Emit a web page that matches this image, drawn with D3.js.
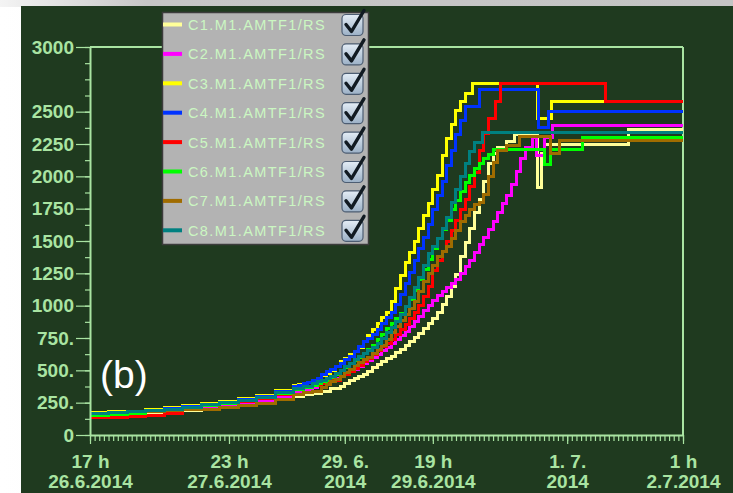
<!DOCTYPE html>
<html>
<head>
<meta charset="utf-8">
<script src="https://cdn.jsdelivr.net/npm/d3@7"></script>
<style>
  html, body { margin: 0; padding: 0; background: #ffffff; }
  svg { display: block; }
</style>
</head>
<body>
<svg id="chart" width="733" height="493"></svg>
<script>
// Hourly readings, hours counted from 17 h on 26.6.2014, values in the sensor's unit.
const c1Readings = [[0,165],[4,167],[8,170],[12,175],[16,180],[20,190],[24,200],[28,212],[32,230],[36,250],[40,275],[44,300],[46,310],[48,320],[50,340],[52,360],[54,375],[55,395],[56,420],[57,435],[58,450],[59,470],[60,490],[61,520],[62,545],[63,570],[64,590],[65,610],[66,635],[67,660],[68,690],[69,720],[70,755],[71,785],[72,820],[73,860],[74,900],[75,950],[76,1010],[77,1070],[78,1150],[79,1240],[80,1380],[81,1490],[82,1600],[83,1720],[84,1820],[85,1960],[86,2100],[87,2180],[88,2220],[90,2270],[91.7,2320],[96.7,1910],[97.5,2180],[98.2,2250],[116.2,2365],[128,2365]];
const c2Readings = [[0,140],[4,160],[8,180],[12,186],[16,192],[20,200],[24,210],[28,225],[32,240],[36,262],[40,292],[44,330],[46,350],[48,370],[49,382],[50,395],[51,410],[52,425],[53,440],[54,455],[55,472],[56,490],[57,510],[58,530],[59,552],[60,575],[61,600],[62,625],[63,650],[64,680],[65,710],[66,740],[67,770],[68,800],[69,840],[70,880],[71,920],[72,960],[73,1000],[74,1040],[75,1075],[76,1110],[77,1140],[78,1170],[79,1200],[80,1250],[81,1300],[82,1350],[83,1410],[84,1470],[85,1530],[86,1590],[87,1650],[88,1720],[89,1790],[90,1850],[91,1940],[92,2040],[93,2140],[94,2220],[95.6,2300],[96.3,2160],[98.2,2300],[99.9,2390],[128,2390]];
const c3Readings = [[0,175],[4,178],[8,185],[12,198],[16,212],[20,228],[24,245],[28,262],[32,282],[36,308],[40,345],[44,380],[45,388],[46,396],[47,408],[48,420],[49,440],[50,460],[51,478],[52,500],[53,530],[54,565],[55,595],[56,620],[57,645],[58,680],[59,720],[60,770],[61,815],[62,860],[63,905],[64,950],[65,1030],[66,1130],[67,1230],[68,1330],[69,1410],[70,1500],[71,1600],[72,1700],[73,1790],[74,1900],[75,2010],[76,2160],[77,2290],[78,2400],[79,2510],[80,2575],[81,2640],[82.5,2715],[96.7,2450],[99.7,2575],[128,2575]];
const c4Readings = [[0,165],[4,170],[8,178],[12,190],[16,205],[20,220],[24,238],[28,255],[32,275],[36,300],[40,335],[44,375],[45,385],[46,395],[47,405],[48,420],[49,440],[50,465],[51,490],[52,510],[53,530],[54,555],[55,580],[56,610],[57,645],[58,685],[59,720],[60,750],[61,780],[62,815],[63,860],[64,905],[65,950],[66,1010],[67,1090],[68,1170],[69,1260],[70,1350],[71,1440],[72,1530],[73,1630],[74,1740],[75,1850],[76,1960],[77,2080],[78,2200],[79,2320],[80,2430],[81,2540],[84,2670],[96.9,2375],[98.9,2500],[128,2500]];
const c5Readings = [[0,132],[4,135],[8,140],[12,148],[16,170],[20,205],[24,225],[28,245],[32,262],[36,285],[40,315],[44,350],[46,368],[48,385],[50,400],[52,420],[54,450],[55,470],[56,490],[57,515],[58,540],[59,568],[60,595],[61,625],[62,655],[63,685],[64,710],[65,740],[66,775],[67,815],[68,855],[69,900],[70,950],[71,1005],[72,1070],[73,1150],[74,1270],[75,1350],[76,1420],[77,1500],[78,1580],[79,1660],[80,1740],[81,1820],[82,1920],[83,2030],[84,2200],[85,2330],[86,2450],[87.5,2575],[88.5,2715],[111.2,2575],[128,2575]];
const c6Readings = [[0,148],[4,155],[8,168],[12,182],[16,198],[20,212],[24,228],[28,245],[32,265],[36,290],[40,320],[44,355],[46,368],[48,380],[49,395],[50,410],[51,425],[52,445],[53,470],[54,500],[55,525],[56,550],[57,575],[58,600],[59,630],[60,660],[61,695],[62,735],[63,780],[64,820],[65,860],[66,900],[67,940],[68,990],[69,1050],[70,1120],[71,1200],[72,1280],[73,1360],[74,1440],[75,1520],[76,1590],[77,1660],[78,1740],[79,1810],[80,1880],[81,1950],[82,2010],[83,2060],[84,2100],[85,2140],[86,2170],[87,2205],[98,2090],[99.5,2205],[106.4,2300],[128,2300]];
const c7Readings = [[0,170],[4,174],[8,178],[12,183],[16,188],[20,194],[24,200],[28,210],[32,225],[36,245],[40,275],[44,310],[46,325],[48,340],[50,370],[51,390],[52,410],[53,432],[54,455],[55,482],[56,510],[57,535],[58,560],[59,580],[60,600],[61,630],[62,660],[63,695],[64,740],[65,790],[66,840],[67,885],[68,930],[69,975],[70,1030],[71,1110],[72,1190],[73,1250],[74,1310],[75,1380],[76,1420],[77,1460],[78,1520],[79,1580],[80,1650],[81,1700],[82,1740],[83,1780],[84,1800],[85,1860],[86,2000],[87,2110],[88,2200],[90,2240],[92.8,2310],[99.3,2180],[101.4,2275],[128,2275]];
const c8Readings = [[0,170],[4,172],[8,178],[12,188],[16,200],[20,215],[24,232],[28,250],[32,268],[36,292],[40,325],[44,360],[46,378],[48,395],[49,410],[50,420],[51,435],[52,455],[53,475],[54,500],[55,530],[56,555],[57,580],[58,605],[59,630],[60,655],[61,680],[62,710],[63,745],[64,790],[65,830],[66,880],[67,935],[68,995],[69,1060],[70,1140],[71,1220],[72,1310],[73,1400],[74,1460],[75,1520],[76,1600],[77,1680],[78,1800],[79,1900],[80,2000],[81,2100],[82,2190],[83,2260],[84.8,2340],[128,2340]];

const seriesNames = ["C1.M1.AMTF1/RS","C2.M1.AMTF1/RS","C3.M1.AMTF1/RS","C4.M1.AMTF1/RS","C5.M1.AMTF1/RS","C6.M1.AMTF1/RS","C7.M1.AMTF1/RS","C8.M1.AMTF1/RS"];
const seriesColors = ["#ffff99","#ff00ff","#ffff00","#0033ff","#ff0000","#00ff00","#a06c00","#008080"];
const seriesReadings = [c1Readings,c2Readings,c3Readings,c4Readings,c5Readings,c6Readings,c7Readings,c8Readings];

// Axis ticks
const yTickValues = [0,250,500,750,1000,1250,1500,1750,2000,2250,2500,3000];
const yTickLabels = ["0","250.","500.","750.","1000","1250","1500","1750","2000","2250","2500","3000"];
const xTickHours = [0,30,55,74,103,128];
const xTickLine1 = ["17 h","23 h","29. 6.","19 h","1. 7.","1 h"];
const xTickLine2 = ["26.6.2014","27.6.2014","2014","29.6.2014","2014","2.7.2014"];

const W = 733, H = 493;
const axisColor = "#a9e4a2";
const panelColor = "#1f3a1f";
const svg = d3.select("#chart");

// Window frame and dark panel
const defs = svg.append("defs");
const topGrad = defs.append("linearGradient").attr("id","topGrad").attr("x1",0).attr("x2",1).attr("y1",0).attr("y2",0);
topGrad.append("stop").attr("offset","0%").attr("stop-color","#f4f4f4");
topGrad.append("stop").attr("offset","20%").attr("stop-color","#c6c6c6");
topGrad.append("stop").attr("offset","100%").attr("stop-color","#c4c4c4");
const leftGrad = defs.append("linearGradient").attr("id","leftGrad").attr("x1",0).attr("x2",1).attr("y1",0).attr("y2",0);
leftGrad.append("stop").attr("offset","0%").attr("stop-color","#ffffff");
leftGrad.append("stop").attr("offset","100%").attr("stop-color","#ededed");
const boxGrad = defs.append("linearGradient").attr("id","boxGrad").attr("x1",0).attr("x2",0).attr("y1",0).attr("y2",1);
boxGrad.append("stop").attr("offset","0%").attr("stop-color","#e4edf6");
boxGrad.append("stop").attr("offset","100%").attr("stop-color","#9bb0c6");

svg.append("rect").attr("x",0).attr("y",0).attr("width",W).attr("height",H).attr("fill","url(#leftGrad)");
svg.append("rect").attr("x",0).attr("y",0).attr("width",W).attr("height",7).attr("fill","url(#topGrad)");
svg.append("rect").attr("x",21).attr("y",6).attr("width",W-21).attr("height",H-6).attr("fill",panelColor);

// Scales
const x = d3.scaleLinear().domain([0,128]).range([90,683]);
const y = d3.scaleLinear().domain([0,3000]).range([435,47]);

// Frame lines at the top value and the last hour
const frame = svg.append("g").attr("stroke",axisColor).attr("stroke-width",2).attr("fill","none");
frame.append("line").attr("x1",x(0)).attr("x2",x(128)).attr("y1",y(3000)).attr("y2",y(3000));
frame.append("line").attr("x1",x(128)).attr("x2",x(128)).attr("y1",y(3000)).attr("y2",y(0));

// Step lines, drawn C1 first so later channels sit on top
const line = d3.line().x(d => x(d[0])).y(d => y(d[1])).curve(d3.curveStepAfter);
svg.append("g").selectAll("path").data(seriesReadings).join("path")
  .attr("d", line)
  .attr("fill","none")
  .attr("stroke",(d,i) => seriesColors[i])
  .attr("stroke-width",3)
  .attr("stroke-linejoin","miter")
  .attr("shape-rendering","crispEdges");

// Y axis: minor and labelled ticks
const yMinor = svg.append("g").attr("transform",`translate(${x(0)},0)`)
  .call(d3.axisLeft(y).tickValues(d3.range(0,3001,125)).tickSize(5).tickSizeOuter(0).tickFormat(""));
const yMajor = svg.append("g").attr("transform",`translate(${x(0)},0)`)
  .call(d3.axisLeft(y).tickValues(yTickValues).tickSize(14).tickSizeOuter(0).tickPadding(2)
    .tickFormat((d,i) => yTickLabels[i]));

// X axis: hourly ticks and labelled ticks
const xMinor = svg.append("g").attr("transform",`translate(0,${y(0)})`)
  .call(d3.axisBottom(x).tickValues(d3.range(0,129,1)).tickSize(6).tickSizeOuter(0).tickFormat(""));
const xMajor = svg.append("g").attr("transform",`translate(0,${y(0)})`)
  .call(d3.axisBottom(x).tickValues(xTickHours).tickSize(9).tickSizeOuter(0).tickFormat(""));
xMajor.selectAll(".tick text").each(function(d,i){
  const t = d3.select(this).attr("y",null).attr("dy",null);
  t.append("tspan").attr("x",0).attr("y",33).text(xTickLine1[i]);
  t.append("tspan").attr("x",0).attr("y",53).text(xTickLine2[i]);
});

[yMinor,yMajor,xMinor,xMajor].forEach(g => {
  g.selectAll("path.domain").attr("stroke",axisColor).attr("stroke-width",2);
  g.selectAll(".tick line").attr("stroke",axisColor).attr("stroke-width",1.2);
  g.selectAll("text").attr("fill",axisColor)
    .style("font-family","'Liberation Sans', Arial, sans-serif")
    .style("font-weight","bold").style("font-size","19px");
});
xMinor.select("path.domain").remove();
yMinor.select("path.domain").remove();

// Panel letter
svg.append("text").attr("x",100).attr("y",388).text("(b)")
  .attr("fill","#ffffff").style("font-family","'Liberation Sans', Arial, sans-serif").style("font-size","39px");

// Legend
const legend = svg.append("g");
legend.append("rect").attr("x",162.5).attr("y",12.5).attr("width",206).attr("height",232)
  .attr("fill","#b3b3b3").attr("stroke","#3c3c3c").attr("stroke-width",1.5);
const rowY = i => 24.5 + i * 29.4;
seriesNames.forEach((name,i) => {
  const cy = rowY(i);
  legend.append("rect").attr("x",163).attr("y",cy-2).attr("width",19).attr("height",4).attr("fill",seriesColors[i]);
  legend.append("text").attr("x",188).attr("y",cy+5.5).text(name)
    .attr("fill","#cbf7c2").style("font-family","'Liberation Sans', Arial, sans-serif")
    .style("font-size","14.5px").style("letter-spacing","1.4px");
  legend.append("rect").attr("x",342).attr("y",cy-10).attr("width",21).attr("height",21).attr("rx",4)
    .attr("fill","url(#boxGrad)").attr("stroke","#4d5d72").attr("stroke-width",1.2);
  legend.append("path")
    .attr("d",`M346,${cy} L351.5,${cy+7} L364,${cy-14}`)
    .attr("fill","none").attr("stroke","#111a22").attr("stroke-width",3.4)
    .attr("stroke-linejoin","round").attr("stroke-linecap","round");
});
</script>
</body>
</html>
